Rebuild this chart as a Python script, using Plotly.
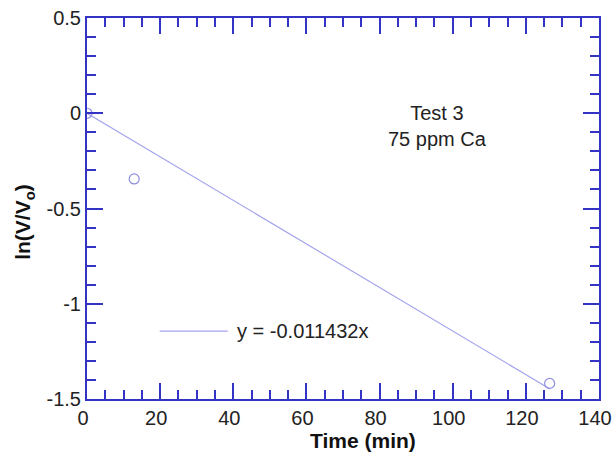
import plotly.graph_objects as go

time_min = [0, 12.9, 126.5]
ln_ratio = [0, -0.345, -1.418]
slope = -0.011432
fit_x = [0, 126.5]
fit_y = [slope * x for x in fit_x]

x_ticks = [0, 20, 40, 60, 80, 100, 120, 140]
x_ticktext = ["0", "20", "40", "60", "80", "100", "120", "140"]
y_ticks = [-1.5, -1, -0.5, 0, 0.5]
y_ticktext = ["-1.5", "-1", "-0.5", "0", "0.5"]

axis_color = "#3434c4"
line_color = "#a4a4ee"
marker_color = "#8c8ce0"
font = "Liberation Sans, Arial, sans-serif"

fig = go.Figure()
fig.add_trace(go.Scatter(x=fit_x, y=fit_y, mode="lines",
                         line=dict(color=line_color, width=1.2),
                         showlegend=False, hoverinfo="skip"))
fig.add_trace(go.Scatter(x=time_min, y=ln_ratio, mode="markers",
                         marker=dict(symbol="circle-open", size=10,
                                     color=marker_color, line=dict(width=1.2)),
                         showlegend=False))

axis_common = dict(showline=True, linecolor=axis_color, linewidth=2,
                   mirror="ticks", ticks="inside", ticklen=16, tickwidth=2,
                   tickcolor=axis_color, showgrid=False, zeroline=False,
                   automargin=False, ticklabeloverflow="allow",
                   tickfont=dict(family=font, size=20, color="#222"))

fig.update_xaxes(range=[0, 140], tickmode="array", tickvals=x_ticks,
                 ticktext=x_ticktext, ticklabelshift=-4,
                 minor=dict(dtick=5, tick0=0, ticks="inside", ticklen=9,
                            tickwidth=2, tickcolor=axis_color, showgrid=False),
                 **axis_common)
fig.update_yaxes(range=[-1.5, 0.5], tickmode="array", tickvals=y_ticks,
                 ticktext=y_ticktext,
                 minor=dict(dtick=0.1, tick0=0, ticks="inside", ticklen=9,
                            tickwidth=2, tickcolor=axis_color, showgrid=False),
                 **axis_common)

# axis titles
fig.add_annotation(text="<b>Time (min)</b>", xref="paper", yref="paper",
                   x=0.539, y=-0.110, xanchor="center", yanchor="middle",
                   showarrow=False,
                   font=dict(family=font, size=21, color="#111"))
fig.add_annotation(text="<b>ln(V/V<sub>o</sub>)</b>", xref="paper", yref="paper",
                   x=-0.123, y=0.465, xanchor="center", yanchor="middle",
                   textangle=-90, showarrow=False,
                   font=dict(family=font, size=21, color="#111"))

fig.add_annotation(text="Test 3<br>75 ppm Ca", xref="paper", yref="paper",
                   x=0.684, y=0.717, xanchor="center", yanchor="middle",
                   showarrow=False, align="center",
                   font=dict(family=font, size=20, color="#222"))

# legend sample
fig.add_shape(type="line", xref="paper", yref="paper",
              x0=0.142, x1=0.275, y0=0.178, y1=0.178,
              line=dict(color=line_color, width=1.2))
fig.add_annotation(text="y = -0.011432x", xref="paper", yref="paper",
                   x=0.289, y=0.178, xanchor="left", yanchor="middle",
                   showarrow=False,
                   font=dict(family=font, size=20, color="#222"))

fig.update_layout(width=613, height=455, plot_bgcolor="white",
                  paper_bgcolor="white",
                  margin=dict(l=87, r=14, t=18, b=56))

fig.write_html("out.html", config={"displayModeBar": False},
               post_script="document.body.style.margin='0';"
                           "document.body.style.overflow='hidden';")
